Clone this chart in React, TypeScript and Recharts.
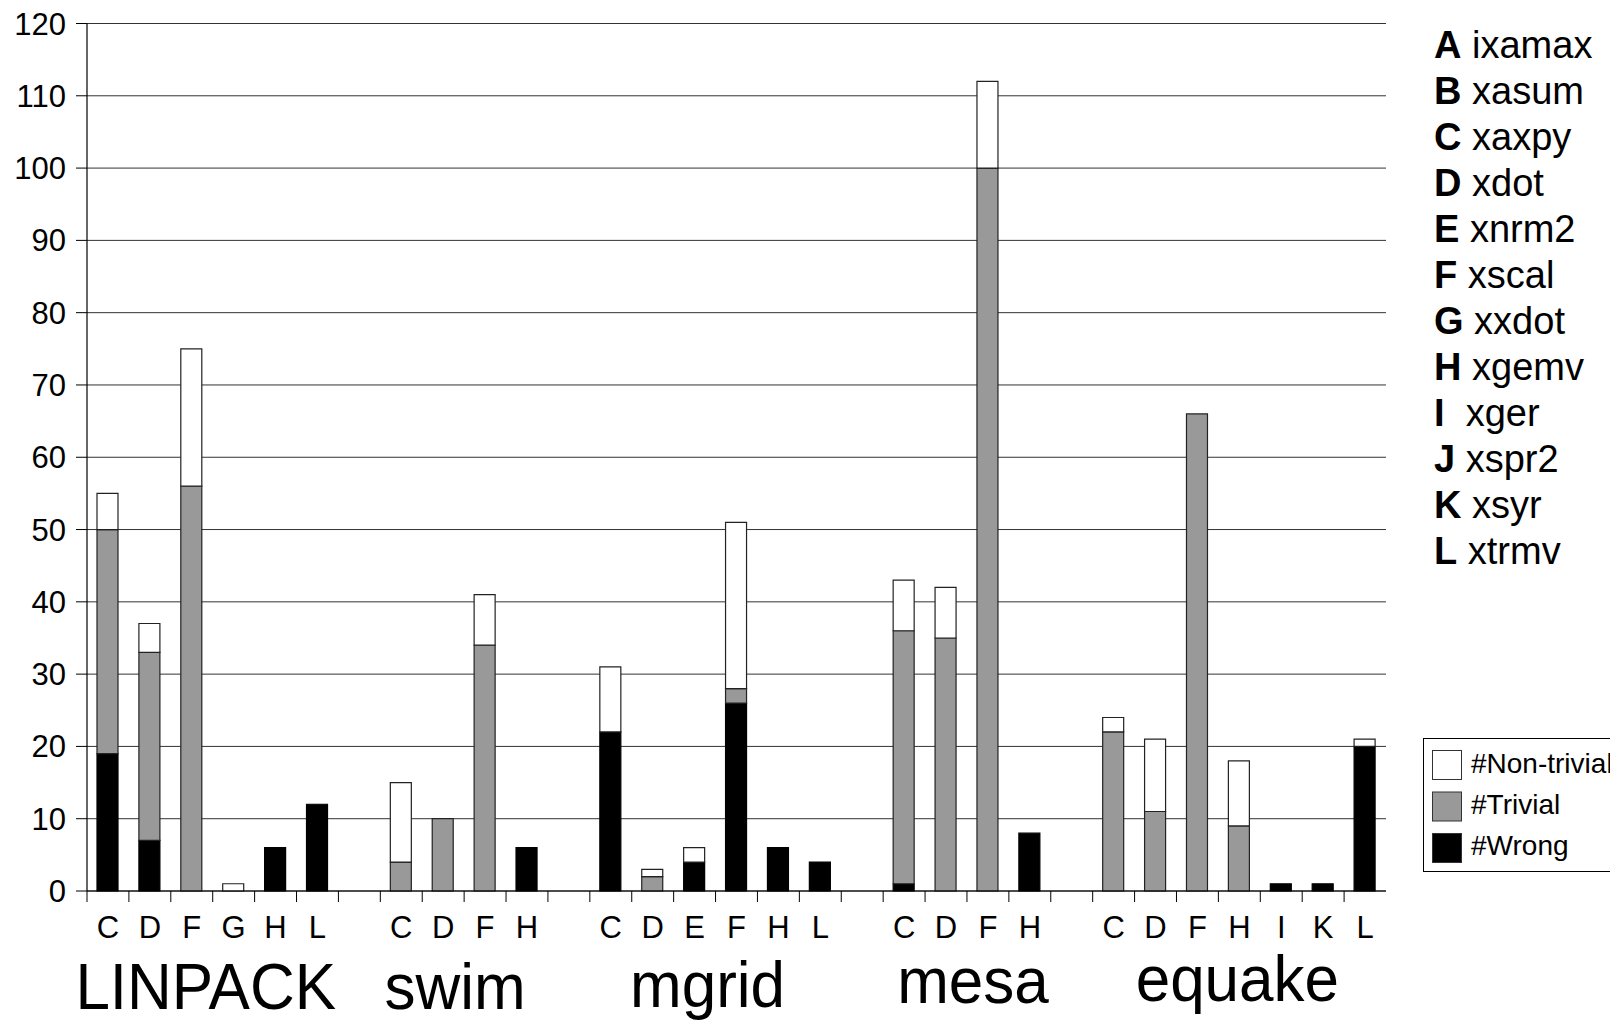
import React from 'react';
import { BarChart, Bar, XAxis, YAxis, CartesianGrid } from 'recharts';

// benchmark groups and the BLAS routines measured in each
const groups = ['LINPACK', 'swim', 'mgrid', 'mesa', 'equake'];
const groupRoutines = [
  ['C', 'D', 'F', 'G', 'H', 'L'],
  ['C', 'D', 'F', 'H'],
  ['C', 'D', 'E', 'F', 'H', 'L'],
  ['C', 'D', 'F', 'H'],
  ['C', 'D', 'F', 'H', 'I', 'K', 'L'],
];

const wrong = [
  [19, 7, 0, 0, 6, 12],
  [0, 0, 0, 6],
  [22, 0, 4, 26, 6, 4],
  [1, 0, 0, 8],
  [0, 0, 0, 0, 1, 1, 20],
];
const trivial = [
  [31, 26, 56, 0, 0, 0],
  [4, 10, 34, 0],
  [0, 2, 0, 2, 0, 0],
  [35, 35, 100, 0],
  [22, 11, 66, 9, 0, 0, 0],
];
const nonTrivial = [
  [5, 4, 19, 1, 0, 0],
  [11, 0, 7, 0],
  [9, 1, 2, 23, 0, 0],
  [7, 7, 12, 0],
  [2, 10, 0, 9, 0, 0, 1],
];

const yTicks = [0, 10, 20, 30, 40, 50, 60, 70, 80, 90, 100, 110, 120];

const routineLetters = ['A', 'B', 'C', 'D', 'E', 'F', 'G', 'H', 'I', 'J', 'K', 'L'];
const routineNames = [' ixamax', ' xasum', ' xaxpy', ' xdot', ' xnrm2', ' xscal', ' xxdot', ' xgemv', '  xger', ' xspr2', ' xsyr', ' xtrmv'];

const seriesNames = ['#Non-trivial', '#Trivial', '#Wrong'];
const seriesColors = ['#ffffff', '#999999', '#000000'];

// layout
const W = 1610;
const H = 1020;
const PLOT_LEFT = 87;
const PLOT_RIGHT = 1386;
const PLOT_TOP = 23.5;
const PLOT_BOTTOM = 891;
const Y_AXIS_W = 70;
const X_AXIS_H = 40;
const FONT = '"Liberation Sans", Arial, Helvetica, sans-serif';
const GROUP_BASELINE = [1009, 1009, 1007, 1003, 1001];
const GROUP_DX = [-7, -9, -8, 6, -2];

type Row = { key: string; letter: string; group: number; wrong: number; trivial: number; nonTrivial: number };

const rows: Row[] = [];
const groupStart: number[] = [];
groups.forEach((g, gi) => {
  groupStart.push(rows.length);
  groupRoutines[gi].forEach((r, ri) => {
    rows.push({
      key: `${g}-${r}`,
      letter: r,
      group: gi,
      wrong: wrong[gi][ri],
      trivial: trivial[gi][ri],
      nonTrivial: nonTrivial[gi][ri],
    });
  });
  if (gi < groups.length - 1) {
    rows.push({ key: `gap-${gi}`, letter: '', group: gi, wrong: 0, trivial: 0, nonTrivial: 0 });
  }
});
const rowByKey: Record<string, Row> = {};
rows.forEach(r => { rowByKey[r.key] = r; });

const BAND = (PLOT_RIGHT - PLOT_LEFT) / rows.length;

const CategoryTick = (props: any) => {
  const { x, payload } = props;
  const row = rowByKey[payload.value];
  const left = x - BAND / 2;
  return (
    <g>
      <line x1={left} x2={left} y1={PLOT_BOTTOM} y2={PLOT_BOTTOM + 11} stroke="#000" strokeWidth={1} />
      <text x={x} y={938} textAnchor="middle" fontSize={31} fontFamily={FONT} fill="#000">
        {row ? row.letter : ''}
      </text>
    </g>
  );
};

const App: React.FC = () => {
  return (
    <div style={{ position: 'absolute', left: 0, top: 0, width: W, height: H, background: '#fff' }}>
      <BarChart
        width={W}
        height={H}
        data={rows}
        barSize={21}
        margin={{ top: PLOT_TOP, right: W - PLOT_RIGHT, left: PLOT_LEFT - Y_AXIS_W, bottom: H - PLOT_BOTTOM - X_AXIS_H }}
      >
        <CartesianGrid vertical={false} stroke="#333" strokeWidth={1} />
        <XAxis
          dataKey="key"
          interval={0}
          height={X_AXIS_H}
          tickLine={false}
          tickSize={0}
          axisLine={{ stroke: '#000', strokeWidth: 1.2 }}
          tick={<CategoryTick />}
        />
        <YAxis
          width={Y_AXIS_W}
          domain={[0, 120]}
          ticks={yTicks}
          interval={0}
          tickSize={11}
          tickMargin={10}
          axisLine={{ stroke: '#000', strokeWidth: 1.2 }}
          tickLine={{ stroke: '#000' }}
          tick={{ fill: '#000', fontSize: 31, fontFamily: FONT }}
        />
        <Bar dataKey="wrong" stackId="a" fill="#000000" stroke="#000" strokeWidth={1.2} isAnimationActive={false} />
        <Bar dataKey="trivial" stackId="a" fill="#999999" stroke="#222" strokeWidth={1.2} isAnimationActive={false} />
        <Bar dataKey="nonTrivial" stackId="a" fill="#ffffff" stroke="#222" strokeWidth={1.2} isAnimationActive={false} />
      </BarChart>

      <svg
        width={W}
        height={H}
        style={{ position: 'absolute', left: 0, top: 0, pointerEvents: 'none' }}
        fontFamily={FONT}
      >
        {/* benchmark names under each group */}
        {groups.map((g, gi) => {
          const cx = PLOT_LEFT + BAND * (groupStart[gi] + groupRoutines[gi].length / 2) + GROUP_DX[gi];
          return (
            <text
              key={g}
              transform={`translate(${cx},${GROUP_BASELINE[gi]}) scale(1,1.06)`}
              textAnchor="middle"
              fontSize={62}
              fill="#000"
            >
              {g}
            </text>
          );
        })}

        {/* routine letter key */}
        {routineLetters.map((l, i) => (
          <text key={l} x={1434} y={57.5 + i * 46} fontSize={38} fill="#000" style={{ whiteSpace: 'pre' }}>
            <tspan fontWeight="bold">{l}</tspan>
            <tspan>{routineNames[i]}</tspan>
          </text>
        ))}

        {/* series legend */}
        <rect x={1423.5} y={738.5} width={260} height={133} fill="#fff" stroke="#000" strokeWidth={1} />
        {seriesNames.map((s, i) => (
          <g key={s}>
            <rect x={1432.5} y={750.5 + i * 41.5} width={29} height={29} fill={seriesColors[i]} stroke="#333" strokeWidth={1} />
            <text x={1471} y={773 + i * 41} fontSize={28} fill="#000">{s}</text>
          </g>
        ))}
      </svg>
    </div>
  );
};

export default App;
